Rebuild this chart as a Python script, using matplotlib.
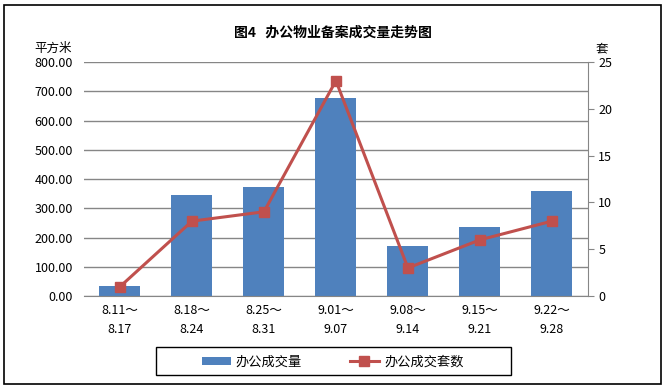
import matplotlib.pyplot as plt
from matplotlib.patches import Rectangle

plt.rcParams['font.family'] = ['Noto Sans CJK SC', 'DejaVu Sans']

# data
weeks = ['8.11～\n8.17', '8.18～\n8.24', '8.25～\n8.31', '9.01～\n9.07',
         '9.08～\n9.14', '9.15～\n9.21', '9.22～\n9.28']
area = [34, 346, 373, 677, 171, 236, 360]   # 办公成交量 (平方米)
units = [1, 8, 9, 23, 3, 6, 8]              # 办公成交套数 (套)

bar_color = '#4F81BD'
line_color = '#C0504D'
grid_color = '#868686'

fig = plt.figure(figsize=(6.65, 3.89), dpi=100)
# outer border and legend box
fig.patches.append(Rectangle((0.006, 0.012), 0.988, 0.975, transform=fig.transFigure,
                             fill=False, edgecolor='black', linewidth=1.2))
fig.patches.append(Rectangle((0.2346, 0.036), 0.534, 0.072, transform=fig.transFigure,
                             fill=False, edgecolor='black', linewidth=1))

ax = fig.add_axes([0.1263, 0.239, 0.7577, 0.6016])
x = range(len(weeks))
b = ax.bar(x, area, width=0.57, color=bar_color, zorder=2, label='办公成交量')
ax.set_ylim(0, 800)
ax.set_xlim(-0.5, len(weeks) - 0.5)
ax.set_yticks(range(0, 801, 100))
ax.set_yticklabels([f'{v:.2f}' for v in range(0, 801, 100)], fontsize=9)
ax.yaxis.grid(True, color=grid_color, linewidth=1, zorder=0)
ax.set_axisbelow(True)
ax.tick_params(axis='y', length=0, pad=8)
ax.set_xticks(list(x))
ax.set_xticklabels(weeks, fontsize=9, linespacing=1.6)
ax.tick_params(axis='x', length=0, pad=6)
for s in ['top', 'left', 'right']:
    ax.spines[s].set_visible(False)
ax.spines['bottom'].set_color(grid_color)

ax2 = ax.twinx()
l, = ax2.plot(x, units, color=line_color, linewidth=2.2, marker='s', markersize=7,
              markerfacecolor=line_color, markeredgecolor=line_color, label='办公成交套数', zorder=3)
ax2.set_ylim(0, 25)
ax2.set_yticks(range(0, 26, 5))
ax2.tick_params(axis='y', labelsize=9, color=grid_color, length=4)
for s in ['top', 'left', 'bottom']:
    ax2.spines[s].set_visible(False)
ax2.spines['right'].set_color(grid_color)

fig.text(0.5, 0.915, '图4   办公物业备案成交量走势图', ha='center', va='center',
         fontsize=10, fontweight='bold')
fig.text(0.052, 0.875, '平方米', ha='left', va='center', fontsize=9)
fig.text(0.895, 0.875, '套', ha='left', va='center', fontsize=9)

fig.legend([b, l], ['办公成交量', '办公成交套数'], loc='center',
           bbox_to_anchor=(0.5, 0.069), ncol=2, fontsize=9.5, frameon=False,
           columnspacing=3.6, handlelength=2.2, handletextpad=0.4, handleheight=0.6,
           borderpad=0, borderaxespad=0)

fig.savefig('out.png', dpi=100)
